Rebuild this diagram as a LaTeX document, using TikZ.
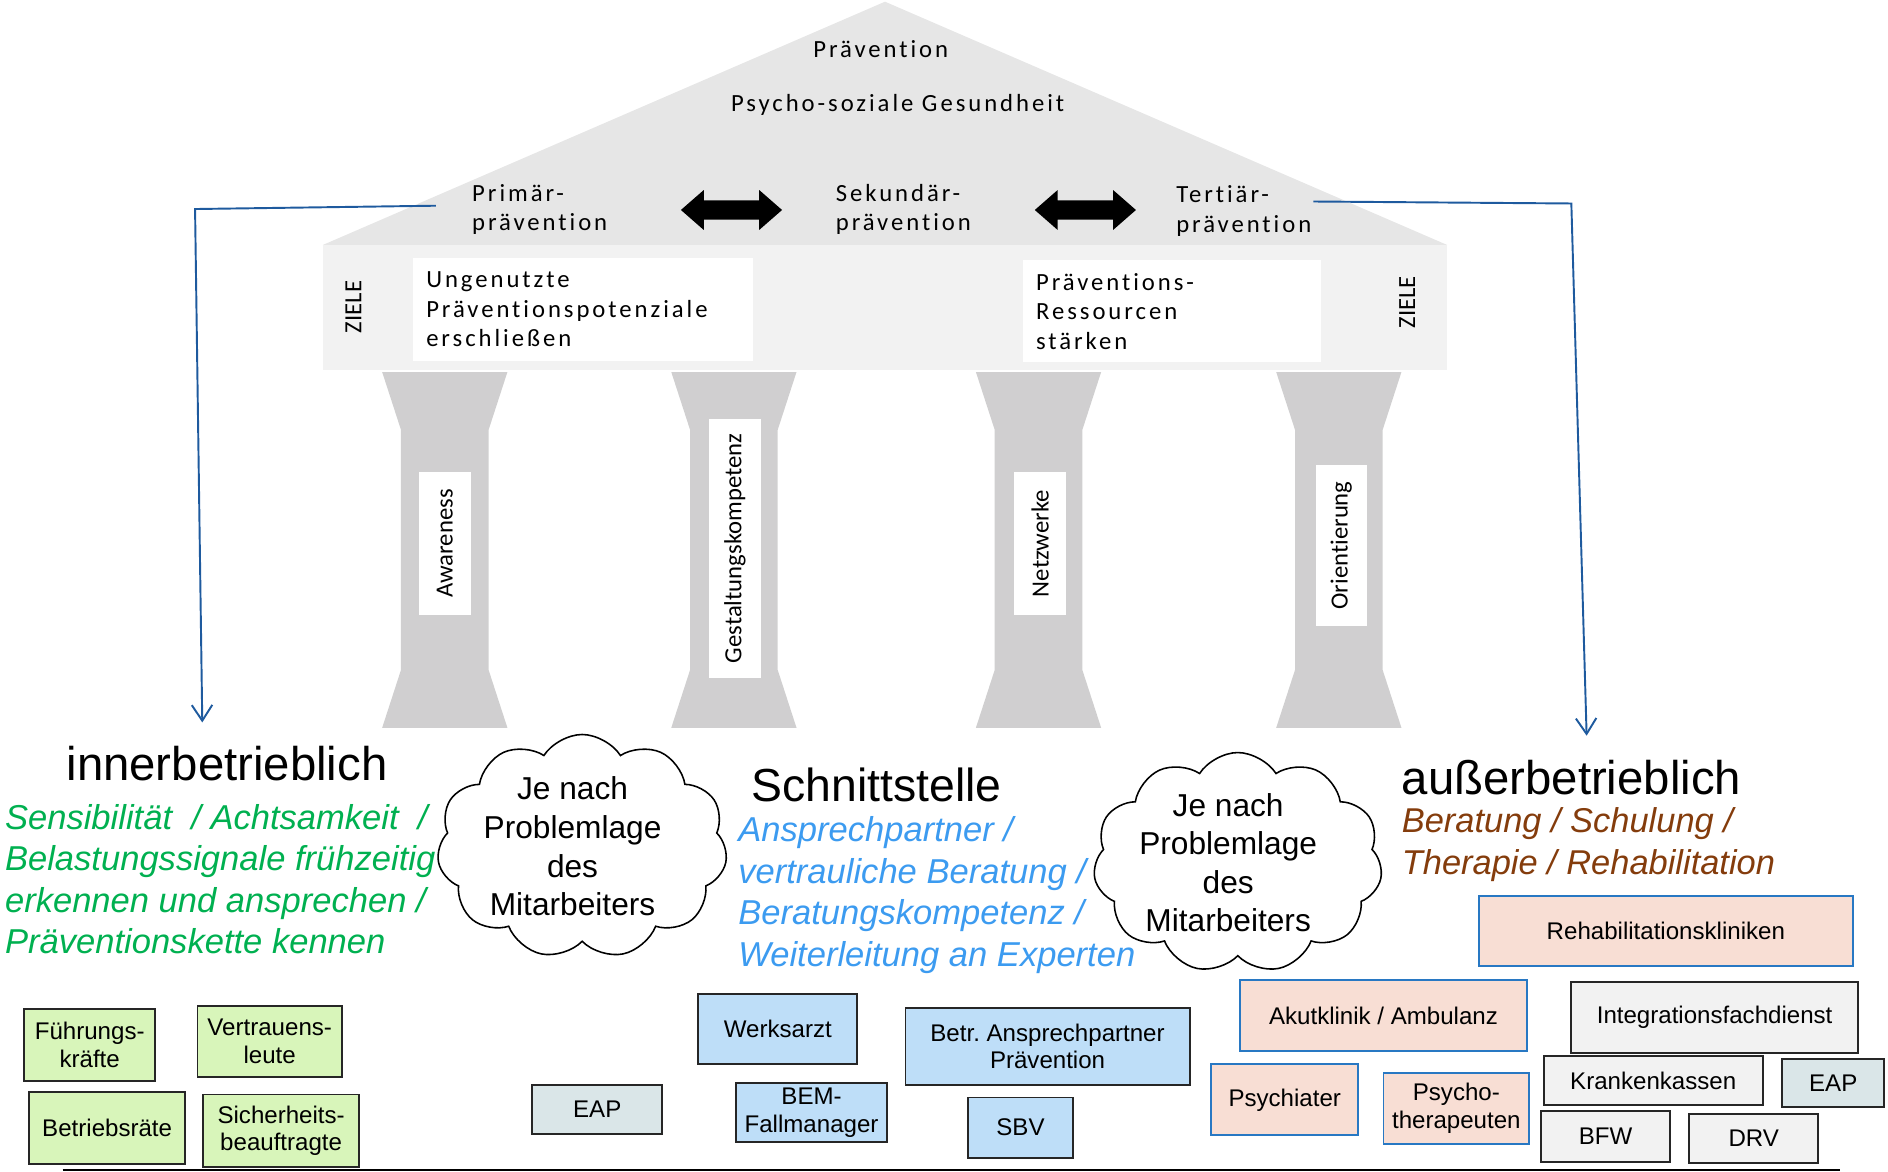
\documentclass[tikz,border=0pt]{standalone}
\usepackage{fontspec}
\setmainfont{Liberation Sans}
\newfontfamily\hausfont[LetterSpace=12,Ligatures=NoCommon]{Carlito}
\newfontfamily\saeulenfont[Ligatures=NoCommon]{Carlito}
\usetikzlibrary{shapes.symbols,arrows.meta}
\definecolor{dachgrau}{RGB}{230,230,230}
\definecolor{balkengrau}{RGB}{242,242,242}
\definecolor{saeulengrau}{RGB}{208,207,208}
\definecolor{pfeilblau}{RGB}{30,90,158}
\definecolor{textgruen}{RGB}{0,176,80}
\definecolor{textblau}{RGB}{60,155,240}
\definecolor{textbraun}{RGB}{132,60,12}
\definecolor{boxgruen}{RGB}{216,245,186}
\definecolor{boxblau}{RGB}{190,222,248}
\definecolor{boxeap}{RGB}{218,230,232}
\definecolor{boxpfirsich}{RGB}{248,222,212}
\definecolor{boxgrau}{RGB}{242,242,242}
\definecolor{randblau}{RGB}{40,120,195}

\begin{document}
\begin{tikzpicture}[x=1pt, y=-1pt,
    dachtext/.style={font=\hausfont\fontsize{20.5}{24.5}\selectfont, inner sep=0pt, align=left},
    zielbox/.style={dachtext, fill=white, inner xsep=11pt},
    saeulenbox/.style={fill=white, font=\saeulenfont\fontsize{20.5}{24}\selectfont, rotate=90, inner sep=0pt},
    groesse/.style 2 args={minimum width=#1pt, minimum height=#2pt},
    kasten/.style={draw=black!85, line width=1.6pt, align=center, inner sep=0pt,
      font=\fontsize{20}{23}\selectfont},
    gruen/.style={kasten, fill=boxgruen},
    blau/.style={kasten, fill=boxblau},
    eap/.style={kasten, fill=boxeap},
    pfirsich/.style={kasten, fill=boxpfirsich, draw=randblau},
    grau/.style={kasten, fill=boxgrau},
    wolke/.style={cloud, cloud puffs=11, cloud puff arc=115, draw, fill=white, line width=1.3pt, inner sep=0pt},
    wolkentext/.style={align=center, inner sep=0pt, font=\fontsize{26.3}{32}\selectfont},
    kursiv/.style={anchor=base west, align=left, inner sep=0pt, font=\itshape\fontsize{28.7}{34.5}\selectfont},
    titel/.style={inner sep=0pt, font=\fontsize{39.3}{42}\selectfont},
    verbinder/.style={draw=pfeilblau, line width=1.6pt, -{Straight Barb[length=13pt,width=17pt]}}]
  \useasboundingbox (0,0) rectangle (1568,973);

  % Dach, Gebaelk und Saeulen
  \fill[dachgrau] (735,1.4) -- (1202,203.5) -- (268,203.5) -- cycle;
  \fill[balkengrau] (268,203.5) rectangle (1202,307.3);
  \foreach \px in {369.4, 609.5, 862.5, 1111.9} {
    \fill[saeulengrau] (\px-52,309) -- (\px+52,309) -- (\px+36.4,357) -- (\px+36.4,556.4)
      -- (\px+52,604.4) -- (\px-52,604.4) -- (\px-36.4,556.4) -- (\px-36.4,357) -- cycle;
  }
  \foreach \ax in {607.5, 901.4} {
    \fill[black] (\ax-42,174.4) -- (\ax-23,157.8) -- (\ax-23,166.5) -- (\ax+23,166.5) -- (\ax+23,157.8)
      -- (\ax+42,174.4) -- (\ax+23,191) -- (\ax+23,182.3) -- (\ax-23,182.3) -- (\ax-23,191) -- cycle;
  }

  \node (praev) at (731.5,47.6) [dachtext, anchor=base] {Prävention};
  \node (psycho) at (745.5,92.8) [dachtext, anchor=base] {Psycho-soziale Gesundheit};
  \node (primaer) at (392,191.5) [dachtext, anchor=base west] {Primär-\\prävention};
  \node (sekundaer) at (694,191.5) [dachtext, anchor=base west] {Sekundär-\\prävention};
  \node (tertiaer) at (976.7,193) [dachtext, anchor=base west] {Tertiär-\\prävention};

  \node (zieleL) at (293.5,255) [saeulenbox, fill=none] {ZIELE};
  \node (zieleR) at (1168.6,251) [saeulenbox, fill=none] {ZIELE};
  \node (ungenutzt) at (484,257) [zielbox, groesse={282}{86}, text width=260pt] {Ungenutzte\\Präventionspotenziale\\erschließen};
  \node (ressourcen) at (973.5,258.5) [zielbox, groesse={248}{85}, text width=226pt] {Präventions-\\Ressourcen\\stärken};

  \node (awareness) at (369.5,451.5) [saeulenbox, groesse={119}{43}] {Awareness};
  \node (gestaltung) at (610.3,455.4) [saeulenbox, groesse={215}{43}] {Gestaltungskompetenz};
  \node (netzwerke) at (863.8,451.5) [saeulenbox, groesse={119}{43}] {Netzwerke};
  \node (orientierung) at (1114,453) [saeulenbox, groesse={133}{42}] {Orientierung};

  % Ueberschriften und Beschreibungen
  \node (innerb) at (188.5,647.8) [titel, anchor=base] {innerbetrieblich};
  \node (schnitt) at (728,665.5) [titel, anchor=base, font=\fontsize{38.5}{42}\selectfont] {Schnittstelle};
  \node (ausserb) at (1164,659.5) [titel, anchor=base west] {außerbetrieblich};
  \node (innerTxt) at (4,792) [kursiv, text=textgruen] {Sensibilität \ / Achtsamkeit \ /\\Belastungssignale frühzeitig\\erkennen und ansprechen /\\Präventionskette kennen};
  \node (schnittTxt) at (613,802.5) [kursiv, text=textblau] {Ansprechpartner /\\vertrauliche Beratung /\\Beratungskompetenz /\\Weiterleitung an Experten};
  \node (ausserTxt) at (1164,726) [kursiv, text=textbraun, font=\itshape\fontsize{28.6}{35}\selectfont] {Beratung / Schulung /\\Therapie / Rehabilitation};

  \node[wolke, groesse={241}{186}] (wolkeL) at (483.5,703) {};
  \node[wolkentext] at ([xshift=-8pt]wolkeL) {Je nach\\Problemlage\\des\\Mitarbeiters};
  \node[wolke, groesse={240}{183}] (wolkeR) at (1028,716.5) {};
  \node[wolkentext] at ([xshift=-8pt]wolkeR) {Je nach\\Problemlage\\des\\Mitarbeiters};

  % Verbindungen
  \coordinate (knickL) at (162,173.6);
  \coordinate (endeL) at (168,600);
  \coordinate (knickR) at (1305,169);
  \coordinate (endeR) at (1317.7,611);
  \draw[verbinder] ([xshift=-30pt,yshift=3pt]primaer.west) -- (knickL) -- (endeL);
  \draw[verbinder] ([xshift=1.5pt,yshift=8pt]tertiaer.east) -- (knickR) -- (endeR);

  % Kaesten
  \node (fuehrung) at (74.5,868) [gruen, groesse={109}{60}] {Führungs-\\kräfte};
  \node (vertrauen) at (224,865) [gruen, groesse={120}{59.5}] {Vertrauens-\\leute};
  \node (betriebsrat) at (89,937) [gruen, groesse={130}{59.5}] {Betriebsräte};
  \node (sicherheit) at (233.5,939) [gruen, groesse={130}{60}] {Sicherheits-\\beauftragte};
  \node (eapL) at (496,921.5) [eap, groesse={108}{41}] {EAP};
  \node (werksarzt) at (646,854.5) [blau, groesse={132}{58.5}] {Werksarzt};
  \node (betrAnspr) at (870,869) [blau, groesse={236}{64}] {Betr.\ Ansprechpartner\\Prävention};
  \node (bem) at (674,924) [blau, groesse={126}{49}] {BEM-\\Fallmanager};
  \node (sbv) at (847.5,936.5) [blau, groesse={87}{50}] {SBV};
  \node (reha) at (1383.5,773.5) [pfirsich, groesse={311}{58}] {Rehabilitationskliniken};
  \node (akut) at (1149,843.5) [pfirsich, groesse={238}{59}] {Akutklinik / Ambulanz};
  \node (psychiater) at (1067,913.5) [pfirsich, groesse={122}{59}] {Psychiater};
  \node (psychother) at (1209.5,920.5) [pfirsich, groesse={121}{59}] {Psycho-\\therapeuten};
  \node (integration) at (1424,845) [grau, groesse={238}{59}] {Integrationsfachdienst};
  \node (kranken) at (1373,897.5) [grau, groesse={182}{41}] {Krankenkassen};
  \node (eapR) at (1522.5,899.5) [eap, groesse={85}{40}] {EAP};
  \node (bfw) at (1333.5,944) [grau, groesse={107}{42}] {BFW};
  \node (drv) at (1456.5,945.5) [grau, groesse={107}{41}] {DRV};

  \draw[line width=1.5pt] (52,971.5) -- (1528,971.5);
\end{tikzpicture}
\end{document}
